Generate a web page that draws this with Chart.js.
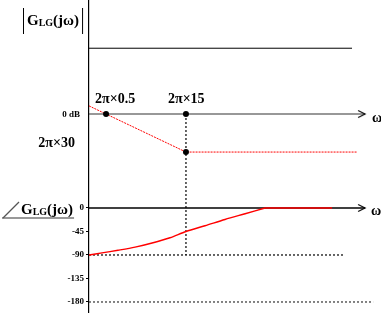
<!DOCTYPE html>
<html>
<head>
<meta charset="utf-8">
<script src="https://cdn.jsdelivr.net/npm/chart.js@4"></script>
<style>
  html, body { margin: 0; padding: 0; background: #fff; }
  canvas { display: block; }
</style>
</head>
<body>
<canvas id="chart" width="381" height="313"></canvas>
<script>
// frequencies in Hz (ω = 2π·f), drawn on a log axis
const xMin = 0.242, xMax = 60400;
const axisEnd = 30700;

const breakFreqs = [0.5, 15];
const breakLabels = ['2π×0.5', '2π×15'];

const levelFreq = [0.242, 17600];
const levelDb = [51, 51];

const magFreq = [0.242, 0.5, 15, 21800];
const magDb = [6.3, 0, -29.5, -29.5];
const floorLabel = '2π×30';

const phaseFreq = [0.242, 0.42, 0.83, 1.72, 3.55, 7.6, 15, 33.7, 79, 186, 435];
const phaseDeg = [-90, -86, -81, -75, -67, -57, -45, -34, -22, -11, 0];
const flatFreq = [435, 7530];
const flatDeg = [0, 0];

const phaseTicks = [0, -45, -90, -135, -180];
const guideDeg = [-90, -180];
const guideEnd = [12600, 43200];

const SERIF = '"Liberation Serif", "Times New Roman", serif';

const pts = (xs, ys) => xs.map((x, i) => ({ x: x, y: ys[i] }));

function chevron() {
    const c = document.createElement('canvas');
    c.width = 18; c.height = 10;
    const g = c.getContext('2d');
    g.strokeStyle = '#000';
    g.lineWidth = 1.1;
    g.beginPath();
    g.moveTo(2, 1.5); g.lineTo(9, 5); g.lineTo(2, 8.5);
    g.stroke();
    return c;
}
const arrow = chevron();

function axisLine(yAxis, color, width) {
    return {
        data: [{ x: xMin, y: 0 }, { x: axisEnd, y: 0 }],
        yAxisID: yAxis,
        borderColor: color,
        borderWidth: width,
        pointRadius: [0, 5],
        pointStyle: arrow
    };
}

// the dotted vertical at 2π×15 runs from the magnitude plot into the phase plot
const guidePlugin = {
    id: 'guide',
    beforeDatasetsDraw(chart) {
        const { ctx, scales } = chart;
        const x = scales.x.getPixelForValue(breakFreqs[1]);
        ctx.save();
        ctx.strokeStyle = '#000';
        ctx.lineWidth = 1.2;
        ctx.setLineDash([2, 2]);
        ctx.beginPath();
        ctx.moveTo(x, scales.y.getPixelForValue(0));
        ctx.lineTo(x, scales.y2.getPixelForValue(-90));
        ctx.stroke();
        ctx.restore();
    }
};

function drawG(ctx, x, base) {
    ctx.font = 'bold 15px ' + SERIF;
    ctx.fillText('G', x, base);
    x += ctx.measureText('G').width;
    ctx.font = 'bold 10px ' + SERIF;
    ctx.fillText('LG', x, base + 1);
    x += ctx.measureText('LG').width;
    ctx.font = 'bold 15px ' + SERIF;
    ctx.fillText('(jω)', x, base);
    return x + ctx.measureText('(jω)').width;
}

const labelPlugin = {
    id: 'labels',
    afterDraw(chart) {
        const { ctx, scales, chartArea } = chart;
        const xs = scales.x, ys = scales.y, yp = scales.y2;
        const y0 = ys.getPixelForValue(0);
        const p0 = yp.getPixelForValue(0);
        ctx.save();
        ctx.fillStyle = '#000';
        ctx.textBaseline = 'alphabetic';

        ctx.font = 'bold 14px ' + SERIF;
        ctx.textAlign = 'left';
        ctx.fillText(breakLabels[0], xs.getPixelForValue(breakFreqs[0]) - 11, y0 - 11);
        ctx.fillText(breakLabels[1], xs.getPixelForValue(breakFreqs[1]) - 18, y0 - 11);
        ctx.textAlign = 'right';
        ctx.fillText(floorLabel, chartArea.left - 14, ys.getPixelForValue(magDb[2]) - 5);

        ctx.font = 'bold 9px ' + SERIF;
        ctx.fillText('0 dB', chartArea.left - 9, y0 + 3);

        ctx.textAlign = 'left';
        ctx.font = 'bold 14px ' + SERIF;
        const wx = xs.getPixelForValue(axisEnd) + 7;
        ctx.fillText('ω', wx, y0 + 8);
        ctx.fillText('ω', wx - 1, p0 + 7);

        // |G_LG(jω)|
        const end = drawG(ctx, 27, 25);
        ctx.strokeStyle = '#000';
        ctx.lineWidth = 1;
        ctx.beginPath();
        ctx.moveTo(23.5, 8); ctx.lineTo(23.5, 34);
        ctx.moveTo(end + 3.5, 8); ctx.lineTo(end + 3.5, 34);
        ctx.stroke();

        // ∠G_LG(jω)
        const pend = drawG(ctx, 21, p0 + 6);
        ctx.strokeStyle = '#999';
        ctx.lineWidth = 2;
        ctx.beginPath();
        ctx.moveTo(2, p0 + 10); ctx.lineTo(pend + 1, p0 + 10);
        ctx.stroke();
        ctx.strokeStyle = '#555';
        ctx.lineWidth = 1.2;
        ctx.beginPath();
        ctx.moveTo(3, p0 + 10); ctx.lineTo(19, p0 - 6);
        ctx.stroke();
        ctx.restore();
    }
};

new Chart(document.getElementById('chart'), {
    type: 'line',
    data: {
        datasets: [
            {
                data: [{ x: breakFreqs[0], y: 0 }, { x: breakFreqs[1], y: 0 }, { x: breakFreqs[1], y: magDb[2] }],
                yAxisID: 'y',
                showLine: false,
                pointRadius: 3,
                pointBackgroundColor: '#000',
                pointBorderWidth: 0
            },
            {
                data: pts(phaseFreq, phaseDeg),
                yAxisID: 'y2',
                borderColor: '#ff0000',
                borderWidth: 1.4,
                tension: 0.3,
                pointRadius: 0
            },
            {
                data: pts(flatFreq, flatDeg),
                yAxisID: 'y2',
                borderColor: '#ff0000',
                borderWidth: 1.6,
                pointRadius: 0
            },
            {
                data: pts(magFreq, magDb),
                yAxisID: 'y',
                borderColor: '#ff0000',
                borderWidth: 1,
                borderDash: [2, 1],
                pointRadius: 0
            },
            {
                data: pts(levelFreq, levelDb),
                yAxisID: 'y',
                borderColor: '#000',
                borderWidth: 1,
                pointRadius: 0
            },
            axisLine('y', '#333', 1.2),
            axisLine('y2', '#000', 1.5),
            {
                data: pts([xMin, guideEnd[0]], [guideDeg[0], guideDeg[0]]),
                yAxisID: 'y2',
                borderColor: '#000',
                borderWidth: 1.2,
                borderDash: [2, 2],
                pointRadius: 0
            },
            {
                data: pts([xMin, guideEnd[1]], [guideDeg[1], guideDeg[1]]),
                yAxisID: 'y2',
                borderColor: '#333',
                borderWidth: 1.2,
                borderDash: [2, 2],
                pointRadius: 0
            }
        ]
    },
    options: {
        responsive: false,
        animation: false,
        events: [],
        layout: { padding: 0, autoPadding: false },
        plugins: {
            legend: { display: false },
            tooltip: { enabled: false }
        },
        scales: {
            x: { type: 'logarithmic', min: xMin, max: xMax, display: false },
            y: { min: -154.3, max: 88.4, display: false },
            y2: {
                position: 'left',
                min: -201.1,
                max: 398.3,
                afterBuildTicks: s => { s.ticks = phaseTicks.map(v => ({ value: v })); },
                afterFit: s => { s.width = 89; s.paddingTop = 0; s.paddingBottom = 0; },
                ticks: {
                    color: '#000',
                    padding: 2,
                    font: { family: SERIF, weight: 'bold', size: 9 }
                },
                grid: { drawOnChartArea: false, tickLength: 3, color: '#000' },
                border: { color: '#000', width: 1.2 }
            }
        }
    },
    plugins: [guidePlugin, labelPlugin]
});
</script>
</body>
</html>
